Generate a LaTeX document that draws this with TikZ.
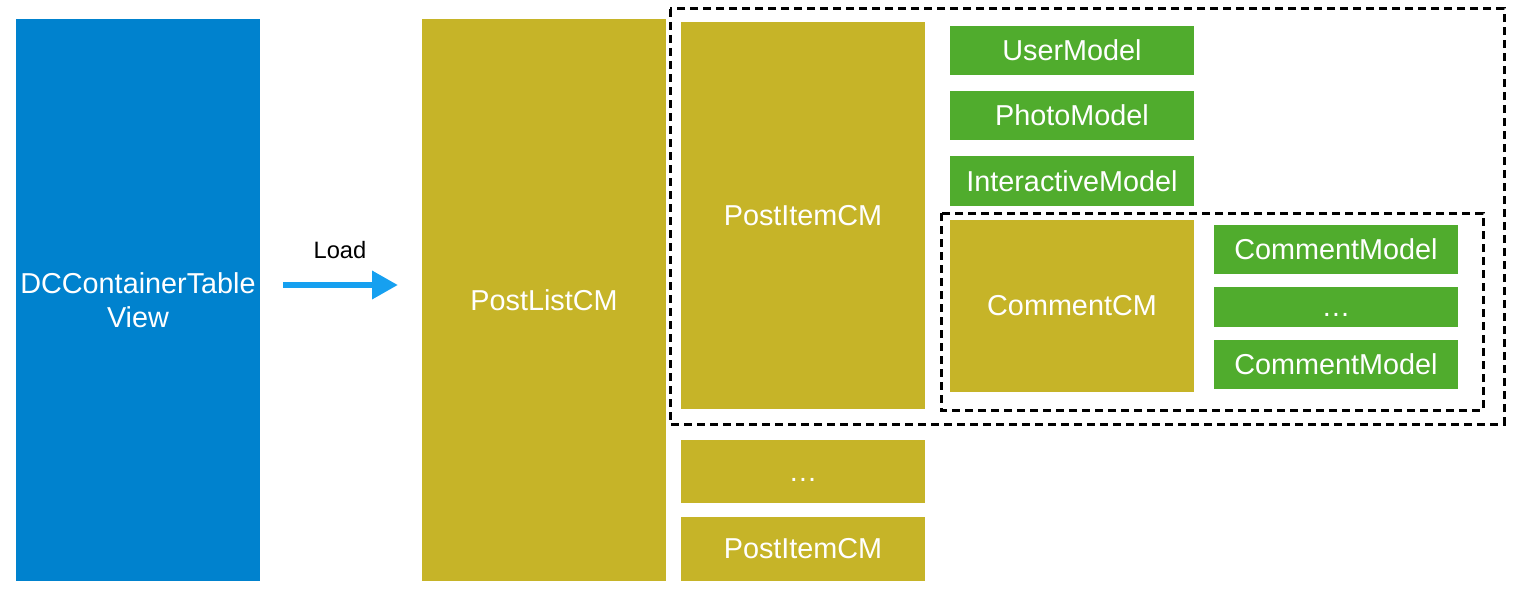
\documentclass[tikz,border=0pt]{standalone}
\usepackage{fontspec}
\setmainfont{Liberation Sans}
\usetikzlibrary{arrows.meta}
\definecolor{viewblue}{RGB}{0,130,206}
\definecolor{cmolive}{RGB}{198,180,40}
\definecolor{modelgreen}{RGB}{80,172,45}
\definecolor{arrowblue}{RGB}{22,160,240}
\begin{document}
\begin{tikzpicture}[x=1pt, y=-1pt,
    box/.style={fill=#1, text=white, inner sep=0pt, outer sep=0pt, align=center,
        font=\fontsize{28.8}{34}\selectfont},
    boxsize/.style 2 args={minimum width=#1pt, minimum height=#2pt},
    group/.style={draw=black, line width=3pt, dash pattern=on 8pt off 5pt}]
    \useasboundingbox (0,0) rectangle (1522,594);
    % left side
    \node[box=viewblue, boxsize={244}{562}] (view) at (138,300) {DCContainerTable\\View};
    \node[box=cmolive, boxsize={244}{562}] (list) at (544,300) {PostListCM};
    \draw[arrowblue, line width=6.5pt, -{Triangle[length=26pt,width=27pt]},
        shorten <=23pt, shorten >=24pt] ([yshift=15pt]view.east) -- ([yshift=15pt]list.west);
    \node[font=\fontsize{23.7}{28}\selectfont] (load) at (340,250) {Load};
    % post items
    \node[box=cmolive, boxsize={244}{387}] (item) at (803,215.5) {PostItemCM};
    \node[box=cmolive, boxsize={244}{63}] (itemdots) at (803,471.5) {\vphantom{M}\dots};
    \node[box=cmolive, boxsize={244}{64}] (itemlast) at (803,549) {PostItemCM};
    % models of one post item
    \node[box=modelgreen, boxsize={244}{49}] (user) at (1072,50.5) {UserModel};
    \node[box=modelgreen, boxsize={244}{49}] (photo) at (1072,115.5) {PhotoModel};
    \node[box=modelgreen, boxsize={244}{50}] (inter) at (1072,181) {InteractiveModel};
    \node[box=cmolive, boxsize={244}{172}] (comment) at (1072,306) {CommentCM};
    \node[box=modelgreen, boxsize={244}{49}] (cmodel) at (1336,249.5) {CommentModel};
    \node[box=modelgreen, boxsize={244}{40}] (cdots) at (1336,307) {\vphantom{M}\dots};
    \node[box=modelgreen, boxsize={244}{49}] (cmodellast) at (1336,364.5) {CommentModel};
    % groups
    \draw[group] (670,9) rectangle (1504,424);
    \draw[group] (941,213) rectangle (1483,410);
\end{tikzpicture}
\end{document}
